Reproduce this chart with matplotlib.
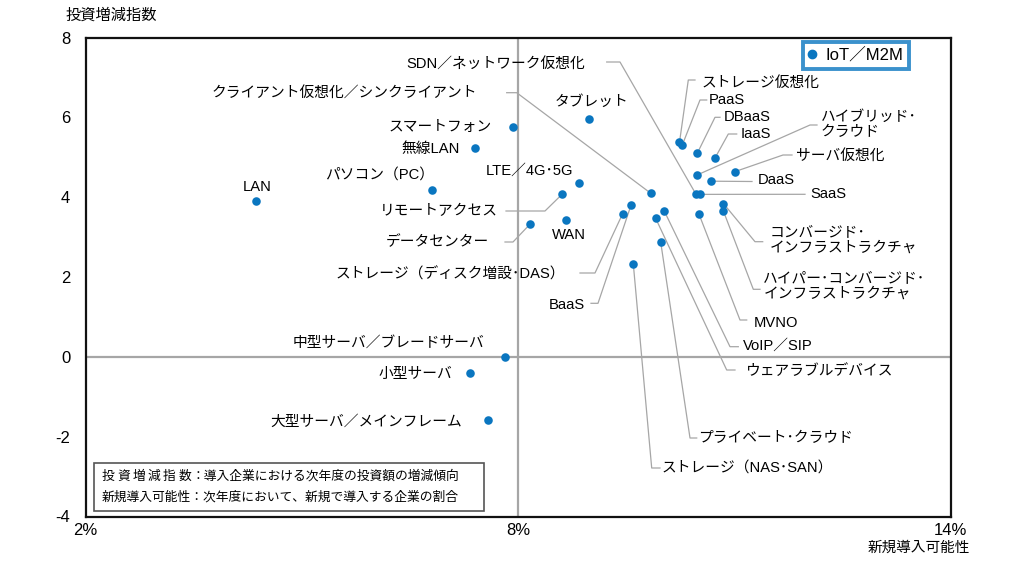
import matplotlib
matplotlib.use('Agg')
import matplotlib.pyplot as plt
from matplotlib.lines import Line2D
from matplotlib.patches import Rectangle

plt.rcParams['font.family'] = ['Liberation Sans', 'Noto Sans CJK JP', 'DejaVu Sans']

# ---------------- data ----------------
names = [
    'SDN／ネットワーク仮想化', 'クライアント仮想化／シンクライアント', 'タブレット',
    'スマートフォン', '無線LAN', 'LTE／4G･5G', 'パソコン（PC）', 'LAN',
    'リモートアクセス', 'データセンター', 'WAN', 'ストレージ（ディスク増設･DAS）',
    'BaaS', '中型サーバ／ブレードサーバ', '小型サーバ', '大型サーバ／メインフレーム',
    'ストレージ仮想化', 'PaaS', 'DBaaS', 'IaaS', 'ハイブリッド･\nクラウド',
    'サーバ仮想化', 'DaaS', 'SaaS', 'コンバージド･\nインフラストラクチャ',
    'ハイパー･コンバージド･\nインフラストラクチャ', 'MVNO', 'VoIP／SIP',
    'ウェアラブルデバイス', 'プライベート･クラウド', 'ストレージ（NAS･SAN）',
]
x_rate = [
    10.47, 9.84, 8.99,
    7.93, 7.40, 8.85, 6.80, 4.37,
    8.61, 8.17, 8.66, 9.45,
    9.57, 7.82, 7.33, 7.59,
    10.24, 10.28, 10.49, 10.73, 10.49,
    11.01, 10.68, 10.53, 10.85,
    10.85, 10.51, 10.03,
    9.91, 9.98, 9.60,
]
y_index = [
    4.07, 4.10, 5.96,
    5.75, 5.22, 4.36, 4.17, 3.91,
    4.07, 3.33, 3.43, 3.58,
    3.81, 0.00, -0.41, -1.57,
    5.37, 5.31, 5.11, 4.97, 4.56,
    4.64, 4.40, 4.07, 3.84,
    3.65, 3.58, 3.65,
    3.47, 2.87, 2.32,
]
x_ticks = [2, 8, 14]
x_tick_labels = ['2%', '8%', '14%']
y_ticks = [-4, -2, 0, 2, 4, 6, 8]
y_tick_labels = ['-4', '-2', '0', '2', '4', '6', '8']
legend_label = 'IoT／M2M'
y_title = '投資増減指数'
x_title = '新規導入可能性'
note_head1 = '投資増減指数'
note_tail1 = '：導入企業における次年度の投資額の増減傾向'
note_line2 = '新規導入可能性：次年度において、新規で導入する企業の割合'

# ---------------- layout (figure pixels, top-left origin) ----------------
label_layout = [
    (585, 64, 'right', [(606.7, 62), (620, 62)]),
    (476.7, 92.7, 'right', [(506.7, 92.7), (516.7, 92.7)]),
    (592, 101.5, 'center', None),
    (491.7, 127.3, 'right', None),
    (460, 149.3, 'right', None),
    (529.7, 170.7, 'center', None),
    (379.5, 176, 'center', None),
    (256.7, 186.7, 'center', None),
    (498.3, 210.7, 'right', [(506, 211), (545, 211)]),
    (489, 241.7, 'right', [(505, 242), (513, 242)]),
    (569, 235, 'center', None),
    (565, 274, 'right', [(580, 273), (595, 273)]),
    (585, 305, 'right', [(591, 303.3), (598, 303.3)]),
    (484, 342.7, 'right', None),
    (452.7, 374, 'right', None),
    (461.7, 421.7, 'right', None),
    (701.7, 82.7, 'left', [(695, 80), (688.3, 80)]),
    (709, 100, 'left', [(706.7, 100), (700, 100)]),
    (724, 117.3, 'left', [(720, 117.3), (715, 117.3)]),
    (741, 134, 'left', [(736.7, 134), (728.3, 134)]),
    (820.7, 124.5, 'left', [(817, 125), (810, 125)]),
    (796, 156, 'left', [(792, 155), (783, 155)]),
    (757.7, 180.5, 'left', [(752, 181.5)]),
    (810, 194.3, 'left', [(805, 194.3)]),
    (770, 240, 'left', [(762.7, 241.7), (755, 241.7)]),
    (763.3, 286, 'left', [(760, 289.3), (753.3, 289.3)]),
    (754, 322.7, 'left', [(746.7, 320), (740, 320)]),
    (743.3, 345.7, 'left', [(738.3, 346.7), (730, 346.7)]),
    (745.7, 370.7, 'left', [(735, 370), (726.7, 370)]),
    (698.3, 438.3, 'left', [(696.7, 438), (690, 438)]),
    (661.7, 468.3, 'left', [(660, 468), (651.7, 468)]),
]

W, H = 1030, 572
BLUE = '#0a76c0'
fig = plt.figure(figsize=(W / 100, H / 100), dpi=100)
L, R, T, B = 85.5, 950.5, 37.5, 516.5
ax = fig.add_axes([L / W, 1 - B / H, (R - L) / W, (B - T) / H])
ax.set_xlim(2, 14)
ax.set_ylim(-4, 8)


def P(px, py):
    return ax.transData.inverted().transform((px, H - py))


ax.axvline(8, color='#a6a6a6', lw=1.6, zorder=1)
ax.axhline(0, color='#a6a6a6', lw=1.6, zorder=1)

for name, xv, yv, lay in zip(names, x_rate, y_index, label_layout):
    tx, ty, ha, leader = lay
    dx, dy = P(tx, ty)
    ax.text(dx, dy, name, ha=ha, va='center', fontsize=10.6,
            linespacing=1.12, color='#000000', zorder=5)
    if leader:
        pts = [P(*p) for p in leader] + [(xv, yv)]
        ax.plot([p[0] for p in pts], [p[1] for p in pts],
                color='#a6a6a6', lw=0.9, zorder=2)

ax.scatter(x_rate, y_index, s=38, color=BLUE, zorder=4, linewidths=0)

ax.set_xticks(x_ticks)
ax.set_xticklabels(x_tick_labels)
ax.set_yticks(y_ticks)
ax.set_yticklabels(y_tick_labels)
ax.tick_params(length=0, labelsize=12)
ax.tick_params(axis='y', pad=11)
ax.tick_params(axis='x', pad=5)
for s in ax.spines.values():
    s.set_linewidth(1.6)
    s.set_color('#111111')

handle = Line2D([], [], marker='o', ls='none', color=BLUE, markersize=6)
leg = ax.legend([handle], [legend_label], loc='upper right',
                bbox_to_anchor=((909 - L) / (R - L), (B - 42) / (B - T)),
                borderaxespad=0, frameon=True, fancybox=False,
                handlelength=0.5, handletextpad=0.55, borderpad=0.33,
                fontsize=12)
leg.get_frame().set_edgecolor(BLUE)
leg.get_frame().set_linewidth(2.8)

# note box
rect = Rectangle((94.3 / W, 1 - 511 / H), (484.3 - 94.3) / W, (511 - 462.7) / H,
                 transform=fig.transFigure, facecolor='white',
                 edgecolor='#555555', lw=1.2, zorder=6)
fig.patches.append(rect)
cw = 12.8
nx = 101.7
for i, ch in enumerate(note_head1):
    fig.text((nx + i * (7 * cw - cw) / 5) / W, 1 - 476.5 / H, ch,
             ha='left', va='center', fontsize=9.2, zorder=7)
fig.text((nx + 7 * cw) / W, 1 - 476.5 / H, note_tail1, ha='left', va='center',
         fontsize=9.2, zorder=7)
fig.text(nx / W, 1 - 497.5 / H, note_line2, ha='left', va='center',
         fontsize=9.2, zorder=7)

fig.text(66 / W, 1 - 15 / H, y_title, ha='left', va='center', fontsize=11)
fig.text(868 / W, 1 - 548 / H, x_title, ha='left', va='center', fontsize=10.5)

fig.savefig('out.png', dpi=100)
